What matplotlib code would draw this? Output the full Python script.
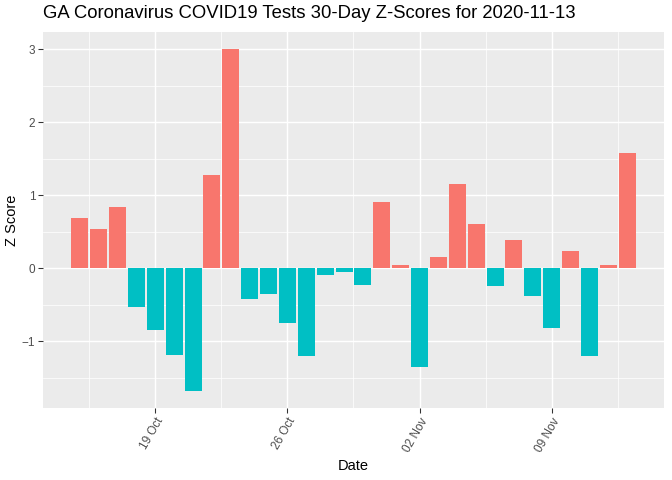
import matplotlib
matplotlib.use("Agg")
import matplotlib.pyplot as plt
import matplotlib.dates as mdates
import numpy as np
import pandas as pd

plt.rcParams["font.family"] = ["Liberation Sans", "DejaVu Sans"]

# daily z-scores, 2020-10-15 .. 2020-11-13
dates = pd.date_range("2020-10-15", "2020-11-13", freq="D")
z_scores = [
    0.69, 0.54, 0.84, -0.53, -0.84, -1.19, -1.68, 1.28, 3.00, -0.42,
    -0.35, -0.75, -1.20, -0.09, -0.05, -0.23, 0.91, 0.04, -1.35, 0.16,
    1.15, 0.60, -0.24, 0.38, -0.38, -0.82, 0.23, -1.20, 0.04, 1.58,
]
major_ticks = pd.to_datetime(["2020-10-19", "2020-10-26", "2020-11-02", "2020-11-09"])
title = "GA Coronavirus COVID19 Tests 30-Day Z-Scores for 2020-11-13"

POS = "#F8766D"
NEG = "#00BFC4"
TXT = "#4D4D4D"

z = np.array(z_scores)
colors = [POS if v > 0 else NEG for v in z]
x = mdates.date2num(dates)

fig = plt.figure(figsize=(7, 5), dpi=96)
ax = fig.add_axes([43 / 672, 72 / 480, 621 / 672, 376 / 480])
ax.set_facecolor("#EBEBEB")

ax.bar(x, z, width=0.9, color=colors, zorder=3)

# ggplot-like expansion
lo, hi = x[0] - 0.45, x[-1] + 0.45
pad = (hi - lo) * 0.05
ax.set_xlim(lo - pad, hi + pad)
ymin, ymax = z.min(), z.max()
ypad = (ymax - ymin) * 0.05
ax.set_ylim(ymin - ypad, ymax + ypad)

mt = mdates.date2num(major_ticks)
ax.set_xticks(mt)
ax.set_xticklabels([d.strftime("%d %b") for d in major_ticks])
step = mt[1] - mt[0]
ax.set_xticks(np.arange(mt[0] - step / 2, mt[-1] + step, step), minor=True)
ax.set_yticks([-1, 0, 1, 2, 3])
ax.set_yticks([-1.5, -0.5, 0.5, 1.5, 2.5], minor=True)

ax.grid(which="major", color="white", linewidth=1.1, zorder=1)
ax.grid(which="minor", color="white", linewidth=0.55, zorder=1)
for s in ax.spines.values():
    s.set_visible(False)

ax.tick_params(which="major", length=3.7, width=0.8, color="#333333",
               labelcolor=TXT, labelsize=8.8, pad=2)
ax.tick_params(which="minor", length=0)
for lab in ax.get_xticklabels():
    lab.set_rotation(60)
    lab.set_ha("right")
    lab.set_va("top")
    lab.set_rotation_mode("anchor")

ax.set_xlabel("Date", fontsize=11, color="black", labelpad=4)
ax.set_ylabel("Z Score", fontsize=11, color="black", labelpad=2)
fig.text(43 / 672, 1 - 14 / 480, title, fontsize=13.9, ha="left", va="center")

fig.savefig("out.png", dpi=96)
